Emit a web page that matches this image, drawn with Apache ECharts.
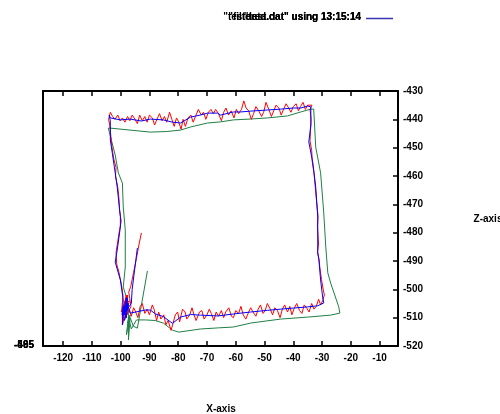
<!DOCTYPE html>
<html><head><meta charset="utf-8">
<script src="https://cdn.jsdelivr.net/npm/echarts@6/dist/echarts.min.js"></script>
<style>html,body{margin:0;padding:0;background:#fff}#c{width:500px;height:414px}</style>
</head><body><div id="c"></div>
<script>
const xTicks = [-120,-110,-100,-90,-80,-70,-60,-50,-40,-30,-20,-10];
const zTicks = [-520,-510,-500,-490,-480,-470,-460,-450,-440,-430];
const legendTexts = ['"testdata.dat" using 13:15:14','"filtered.dat" using 13:15:14','"test.dat" using 13:15:14'];
const leftTexts = ['-485','-495','-505'];

const greenPath = [
[-97.7,-512],[-96.7,-509],[-98.0,-516],[-97.3,-510],[-96.3,-514],
[-94.5,-510.8],[-91.4,-510.8],[-88.0,-511.0],[-85.2,-511.9],[-82.0,-514.4],[-79.8,-515.1],[-72.3,-514.0],[-66.0,-513.6],[-60.8,-513.3],[-54.8,-511.9],[-44.4,-510.5],[-35.0,-509.8],[-27.0,-509.1],[-23.8,-508.4],
[-24.2,-506.2],[-27.0,-497.8],[-28.0,-494.2],[-28.7,-485.1],[-29.4,-473.1],[-30.5,-458.9],[-32.2,-449.8],[-32.9,-436.4],
[-33.9,-436.4],[-37.4,-437.4],[-42.0,-438.8],[-48.9,-439.5],[-55.0,-439.9],[-60.8,-440.2],[-65.3,-440.9],[-69.8,-441.3],[-75.7,-442.7],[-79.2,-443.8],[-84.0,-444.3],[-89.7,-444.5],[-96.7,-443.8],[-103.6,-443.1],[-104.3,-443.1],
[-101.9,-452.6],[-100.8,-458.9],[-99.4,-462.5],[-99.1,-470.9],[-98.4,-479.1],[-98.4,-492.1],[-99.1,-499.2],[-97.7,-503.8],[-97.3,-509.1],[-97.3,-517.9],
[-96.7,-510],[-95.6,-513],[-94.2,-513.7],[-90.7,-493.5]
];

const redPath = [
[-98.5,-504],[-99.5,-509],[-98.0,-502],[-99.0,-511],
[-97,-507],[-96.3,-509.5],[-95.5,-506.5],[-95,-507.5],[-94,-510],[-93.2,-506],[-92.5,-505],[-91.6,-508.5],[-90.8,-507],[-90,-509],[-89,-505.5],[-88.4,-507],[-87.5,-511],[-86.8,-508],[-86,-510.5],[-85,-509],[-84.3,-512.5],[-83.5,-511],[-82.5,-514.5],[-81.8,-512],[-81,-509],[-80.2,-508],[-79.5,-511.5],[-78.5,-507],[-77.6,-508],[-77,-510.5],[-76,-509],[-75.2,-506.5],[-74.5,-509],[-73.8,-511],[-72.6,-508],[-71.8,-507.5],[-71,-510.5],[-70,-509],[-69.2,-507],[-68.5,-508.5],[-67.6,-511],[-66.8,-508],[-66,-509.5],[-65,-507.5],[-64.2,-510],[-63.5,-508],[-62.4,-506.5],[-61.5,-509.5],[-60.8,-510],[-60,-507.5],[-59,-508.5],[-58.2,-506],[-57.4,-509],[-56.5,-510.5],[-55.5,-508],[-54.8,-506.5],[-54,-508],[-53,-509.5],[-52.2,-507],[-51.4,-505.5],[-50.5,-508.5],[-49.8,-507.5],[-49,-505],[-48,-507],[-47.2,-509],[-46.4,-506.5],[-45.5,-507.5],[-44.6,-510],[-43.8,-507],[-43,-505.5],[-42,-508],[-41.2,-506],[-40.5,-509],[-39.6,-506.5],[-38.8,-505],[-37.8,-507.5],[-37,-508.5],[-36.2,-505.5],[-35.4,-506.5],[-34.5,-508],[-33.6,-505],[-32.8,-507],[-32,-506],[-31.2,-503.5],[-30.5,-505.5],[-29.8,-504],[-29.2,-502],
[-29.6,-500],[-30.2,-496.5],[-30.8,-492],[-31.0,-489.5],[-31.6,-487],[-31.2,-484],[-31.6,-478],[-31.4,-474],[-32.0,-468],[-32.4,-463.5],[-32.8,-459],[-33.4,-455],[-33.6,-451],[-34.2,-447.5],[-34.0,-444],[-33.8,-440],[-34.2,-436.5],[-33.5,-435],
[-35,-435],[-35.8,-436.5],[-36.6,-434],[-37.5,-435.5],[-38.2,-437],[-39,-434.5],[-40,-435.5],[-40.8,-437.5],[-41.6,-436],[-42.5,-434.5],[-43.4,-436.5],[-44.2,-438.5],[-45,-436],[-46,-435],[-46.8,-437],[-47.6,-439],[-48.5,-436.5],[-49.5,-434],[-50.3,-437.5],[-51,-439],[-52,-437],[-53,-435.5],[-53.8,-438],[-54.6,-440],[-55.5,-437],[-56.4,-436],[-57.2,-433.5],[-58,-436.5],[-59,-438],[-59.8,-436.5],[-60.6,-439.5],[-61.6,-437],[-62.5,-438.5],[-63.4,-436],[-64.2,-437.5],[-65,-440.5],[-66,-438],[-67,-436.5],[-67.8,-438],[-68.6,-436.5],[-69.5,-437.5],[-70.4,-440],[-71.2,-437.5],[-72,-438.5],[-73,-436.5],[-74,-439],[-74.8,-441],[-75.6,-438.5],[-76.6,-439.5],[-77.5,-442.5],[-78.3,-440],[-79,-443.5],[-79.8,-441],[-80.6,-439.5],[-81.4,-442.5],[-82.2,-440],[-83,-437.5],[-84,-441],[-84.8,-439],[-85.6,-440.5],[-86.5,-438],[-87.4,-440],[-88.2,-442],[-89,-439.5],[-90,-438.5],[-90.8,-441],[-91.6,-439],[-92.5,-440.5],[-93.4,-438.5],[-94.2,-441.5],[-95,-440],[-96,-438.5],[-96.8,-440.5],[-97.6,-439],[-98.5,-441],[-99.4,-439.5],[-100.2,-440.5],[-101,-438.5],[-102,-440],[-102.8,-439],[-103.6,-437.5],[-104.2,-440],
[-103.8,-442],[-103.4,-446],[-103.0,-450],[-102.4,-454],[-101.6,-457],[-101.8,-460],[-101.0,-464],[-100.6,-468],[-100.4,-472],[-99.8,-476],[-100.4,-479],[-101.0,-483],[-101.6,-487],[-101.4,-491],[-100.6,-494],[-99.8,-498],[-99.2,-502],[-99.6,-507],[-99.2,-512],
[-98.4,-505],[-99.8,-508],[-97.6,-502],[-98.2,-510],[-97.0,-504],[-99.0,-506],[-97.8,-509],[-96.4,-506],[-97.2,-501],
[-96.5,-499],[-95.5,-494],[-94.5,-489],[-93.6,-484],[-92.8,-480.1]
];

const bluePath = [
[-98.4,-506],[-99.4,-510],[-98.0,-503],[-98.7,-509],[-97.7,-505],
[-96.7,-508.4],[-91.4,-507.3],[-89.7,-507.3],[-87.9,-508.7],[-85.2,-509.6],[-82.0,-512.0],[-79.2,-509.8],[-75.7,-508.9],[-72.3,-509.1],[-66.3,-509.4],[-60.8,-508.7],[-54.8,-508.0],[-48.9,-507.4],[-44.4,-507.0],[-39.9,-506.6],[-35.0,-506.2],[-31.5,-505.8],[-29.4,-504.8],
[-29.8,-502.7],[-30.5,-496.7],[-31.1,-489.7],[-31.5,-486.8],[-31.5,-474.5],[-32.2,-463.9],[-33.2,-455.4],[-34.6,-448.0],[-33.9,-442.0],[-33.9,-435.6],
[-35.0,-435.3],[-37.4,-436.0],[-39.9,-436.0],[-44.4,-436.4],[-48.9,-436.7],[-54.8,-437.1],[-58.3,-437.4],[-60.8,-437.4],[-65.3,-438.5],[-66.3,-437.8],[-69.8,-437.8],[-72.3,-438.5],[-75.7,-439.2],[-79.2,-441.3],[-82.0,-441.0],[-85.2,-440.2],[-89.7,-439.9],[-92.8,-440.6],[-96.7,-439.9],[-100.1,-440.2],[-103.6,-439.5],[-104.0,-438.5],
[-103.6,-440.5],[-103.6,-447.3],[-102.9,-452.0],[-101.9,-458.9],[-101.2,-463.9],[-100.1,-474.5],[-100.1,-478.0],[-101.2,-486.1],[-101.9,-490.4],[-100.1,-496.7],[-99.1,-503.8],[-99.4,-509.8],[-99.4,-512.6],
[-99.1,-506],[-98.0,-510],[-97.7,-503],[-98.4,-508],[-97.3,-505],[-98.7,-511],[-97.7,-507],[-96.3,-505],
[-96.0,-500],[-94.2,-485.4]
];

const FONT = '"Liberation Sans", Arial, sans-serif';
const chart = echarts.init(document.getElementById('c'), null, {renderer:'canvas'});
const lineStyleAxis = {color:'#000', width:2};
const mk = (name, data, color) => ({
  name, type:'line', data, showSymbol:false, symbol:'none', animation:false,
  lineStyle:{color, width:1}, xAxisIndex:0, yAxisIndex:0, z:2
});
chart.setOption({
  animation:false,
  grid:{left:43, right:102, top:91, bottom:68, containLabel:false},
  xAxis:[
    {type:'value', position:'bottom', min:-127, max:-3.6,
     axisLine:{show:true, onZero:false, lineStyle:lineStyleAxis},
     axisTick:{show:true, inside:true, length:5, customValues:xTicks, lineStyle:{color:'#000', width:1.5}},
     axisLabel:{show:true, customValues:xTicks, margin:7, color:'#000', fontSize:10, fontWeight:'bold', fontFamily:FONT},
     splitLine:{show:false}},
    {type:'value', position:'top', min:-127, max:-3.6,
     axisLine:{show:true, onZero:false, lineStyle:lineStyleAxis},
     axisTick:{show:true, inside:true, length:5, customValues:xTicks, lineStyle:{color:'#000', width:1.5}},
     axisLabel:{show:false}, splitLine:{show:false}}
  ],
  yAxis:[
    {type:'value', position:'right', min:-520, max:-430, interval:10,
     axisLine:{show:true, onZero:false, lineStyle:lineStyleAxis},
     axisTick:{show:true, inside:true, length:5, lineStyle:{color:'#000', width:1.5}},
     axisLabel:{show:true, margin:5, color:'#000', fontSize:10, fontWeight:'bold', fontFamily:FONT,
       customValues: zTicks},
     splitLine:{show:false}},
    {type:'value', position:'left', min:-520, max:-430,
     axisLine:{show:true, onZero:false, lineStyle:lineStyleAxis},
     axisTick:{show:false}, axisLabel:{show:false}, splitLine:{show:false}}
  ],
  series:[
    mk('green', greenPath, '#1f7f45'),
    mk('red', redPath, '#ff0000'),
    mk('blue', bluePath, '#0000ff')
  ],
  graphic:[
    ...legendTexts.map(t => ({type:'text', right:500-361, top:12, z:10,
      style:{text:t, fill:'#000', font:'bold 10px ' + FONT, textAlign:'right'}})),
    {type:'line', shape:{x1:366, y1:18.5, x2:393, y2:18.5}, style:{stroke:'#3535ad', lineWidth:1.5}},
    ...leftTexts.map(t => ({type:'text', x:34, y:345, z:10,
      style:{text:t, fill:'#000', font:'bold 10px ' + FONT, textAlign:'right', textVerticalAlign:'middle'}})),
    {type:'text', x:221, y:409, style:{text:'X-axis', fill:'#000', font:'bold 10px ' + FONT, textAlign:'center', textVerticalAlign:'middle'}},
    {type:'text', x:488, y:219, style:{text:'Z-axis', fill:'#000', font:'bold 10px ' + FONT, textAlign:'center', textVerticalAlign:'middle'}}
  ]
});
</script></body></html>
